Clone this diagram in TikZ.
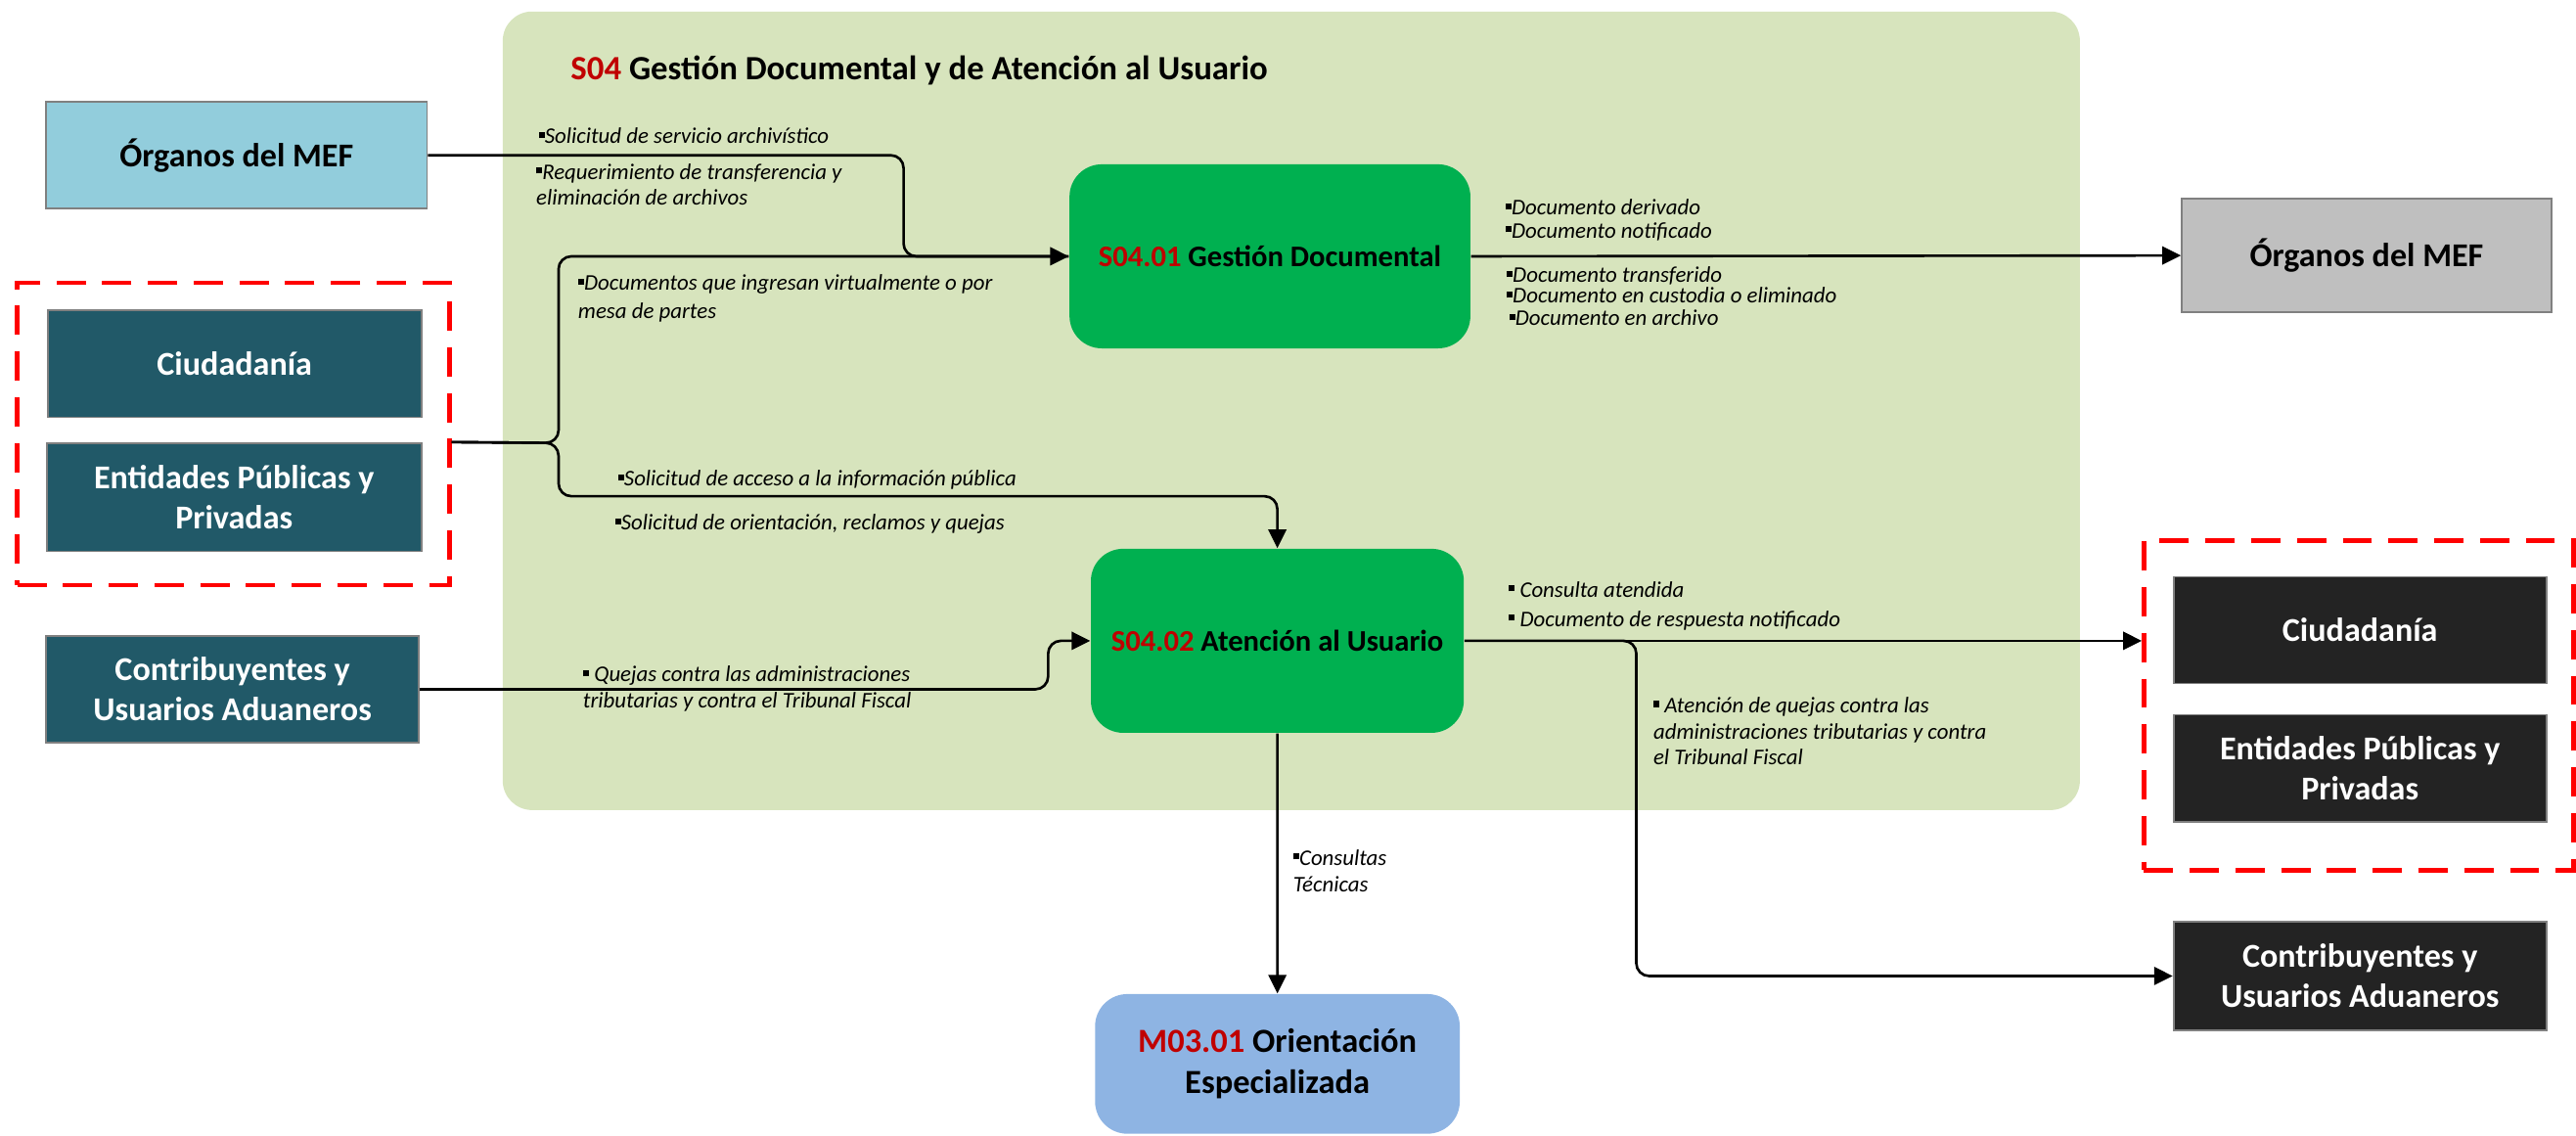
\documentclass[tikz,border=0pt]{standalone}
\usepackage{fontspec}
\setmainfont{Carlito}
\usetikzlibrary{arrows.meta}
\definecolor{panelc}{HTML}{D7E4BD}
\definecolor{lblue}{HTML}{92CDDC}
\definecolor{teal}{HTML}{215968}
\definecolor{gboxc}{HTML}{00B050}
\definecolor{mblue}{HTML}{8EB4E3}
\definecolor{lgray}{HTML}{BFBFBF}
\definecolor{darkc}{HTML}{232323}
\definecolor{codered}{HTML}{C00000}
\definecolor{dashred}{HTML}{FF0000}
\definecolor{edgec}{HTML}{808080}
\newlength\pxu
\setlength\pxu{0.01679cm}
\newcommand\bul{\rule[0.25em]{0.27em}{0.27em}}
\newcommand\cod[1]{\textcolor{codered}{#1}}
\begin{document}
\begin{tikzpicture}[x=0.01679cm,y=-0.01679cm,
  sz/.style 2 args={minimum width=#1\pxu, minimum height=#2\pxu},
  ext/.style={draw=edgec, line width=0.5pt, inner sep=0pt, align=center,
    font=\fontsize{9.7}{11.6}\selectfont\bfseries},
  extlight/.style={ext, fill=lblue, text=black},
  extgray/.style={ext, fill=lgray, text=black},
  extteal/.style={ext, fill=teal, text=white},
  extdark/.style={ext, fill=darkc, text=white},
  grp/.style={draw=dashred, line width=1.3pt, dash pattern=on 8.5pt off 4.8pt, inner sep=0pt},
  proc/.style={fill=gboxc, rounded corners=0.33cm, inner sep=0pt, align=center,
    font=\fontsize{8.7}{10.5}\selectfont\bfseries},
  mbox/.style={fill=mblue, rounded corners=0.33cm, inner sep=0pt, align=center,
    font=\fontsize{9.8}{11.8}\selectfont\bfseries},
  lab/.style={inner sep=0pt, anchor=base west, font=\fontsize{6.5}{7.6}\selectfont\itshape},
  conn/.style={draw=black, line width=0.75pt, rounded corners=0.13cm},
  arr/.style={conn, -{Triangle[length=5.4pt,width=5.2pt]}}
]
\useasboundingbox (0,0) rectangle (1568,691);

% container
\node[fill=panelc, rounded corners=0.3cm, inner sep=0pt, sz={960}{486}] (panel) at (786,250) {};
\node[inner sep=0pt, anchor=base west, font=\fontsize{9.9}{12}\selectfont\bfseries] (title) at (347,48.6)
  {\cod{S04} Gestión Documental y de Atención al Usuario};

% left externals
\node[extlight, sz={232}{65}] (mefL) at (144,94.5) {Órganos del MEF};
\node[grp, sz={263}{184}] (redL) at (142,264) {};
\node[extteal, sz={227.5}{65.4}] (ciuL) at (142.75,221.3) {Ciudadanía};
\node[extteal, sz={228}{65.9}] (entL) at (142.5,302.55) {Entidades Públicas y\\Privadas};
\node[extteal, sz={227}{65}] (contL) at (141.5,419.5) {Contribuyentes y\\Usuarios Aduaneros};

% processes
\node[proc, sz={244}{112}] (gd) at (773,156) {\cod{S04.01} Gestión Documental};
\node[proc, sz={227}{112}] (s2) at (777.5,390) {\cod{S04.02} Atención al Usuario};
\node[mbox, sz={222}{85}] (m03) at (777.55,647.5) {\cod{M03.01} Orientación\\Especializada};

% right externals
\node[extgray, sz={225}{69}] (mefR) at (1440.5,155.5) {Órganos del MEF};
\node[grp, sz={261.5}{200.6}] (redR) at (1435.75,429.3) {};
\node[extdark, sz={227}{65}] (ciuR) at (1436.5,383.5) {Ciudadanía};
\node[extdark, sz={227}{65}] (entR) at (1436.5,467.5) {Entidades Públicas y\\Privadas};
\node[extdark, sz={227}{66}] (contR) at (1436.5,594) {Contribuyentes y\\Usuarios Aduaneros};

% connectors
\draw[arr] (mefL.east) -- (550,94.5) -- (550,156) -- (gd.west);
\draw[conn] (redL.east |- entL.north) -- (340,269.6) -- (340,156) -- (gd.west);
\draw[arr] (redL.east |- entL.north) -- (340,269.6) -- (340,302) -- (s2.north |- 0,302) -- (s2.north);
\draw[arr] (contL.east) -- (638,419.5) -- (638,390) -- (s2.west);
\draw[arr] (gd.east) -- (mefR.west);
\draw[arr] (s2.east) -- (redR.west |- s2.east);
\draw[arr] (s2.east) -- (996,390) -- (996,594) -- (contR.west);
\draw[arr] (s2.south) -- (m03.north);

% labels
\node[lab] (t1) at (327.5,87.4) {\bul Solicitud de servicio archivístico};
\node[lab] (t2a) at (326,109) {\bul Requerimiento de transferencia y};
\node[lab] (t2b) at (326,125) {eliminación de archivos};
\node[lab] (t3a) at (351.5,176.8) {\bul Documentos que ingresan virtualmente o por};
\node[lab] (t3b) at (351.5,193.6) {mesa de partes};
\node[lab] (t4) at (375.8,295.8) {\bul Solicitud de acceso a la información pública};
\node[lab] (t5) at (374,322.6) {\bul Solicitud de orientación, reclamos y quejas};
\node[lab] (t6a) at (354.5,415) {\bul{} Quejas contra las administraciones};
\node[lab] (t6b) at (354.5,430.7) {tributarias y contra el Tribunal Fiscal};
\node[lab] (t7a) at (916,131) {\bul Documento derivado};
\node[lab] (t7b) at (916,144.8) {\bul Documento notificado};
\node[lab] (t8a) at (916.7,172) {\bul Documento transferido};
\node[lab] (t8b) at (916.7,184.6) {\bul Documento en custodia o eliminado};
\node[lab] (t8c) at (918.3,198.3) {\bul Documento en archivo};
\node[lab] (t9a) at (918,363.3) {\bul{} Consulta atendida};
\node[lab] (t9b) at (918,381.2) {\bul{} Documento de respuesta notificado};
\node[lab] (t10a) at (1006,433.7) {\bul{} Atención de quejas contra las};
\node[lab] (t10b) at (1006,449.7) {administraciones tributarias y contra};
\node[lab] (t10c) at (1006,465.5) {el Tribunal Fiscal};
\node[lab] (t11a) at (786.8,526.5) {\bul Consultas};
\node[lab] (t11b) at (786.8,543) {Técnicas};
\end{tikzpicture}
\end{document}
